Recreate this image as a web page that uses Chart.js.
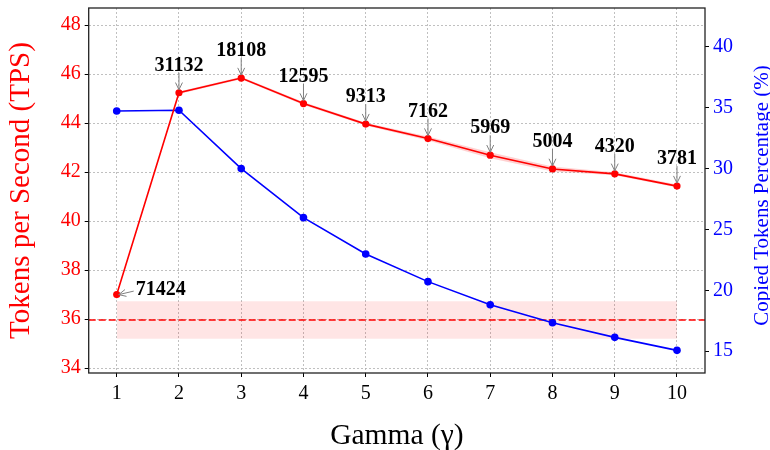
<!DOCTYPE html>
<html><head><meta charset="utf-8">
<script src="https://cdn.jsdelivr.net/npm/chart.js@4.4.0/dist/chart.umd.min.js"></script>
<style>html,body{margin:0;padding:0;background:#fff}#wrap{width:770px;height:450px;position:relative}</style>
</head><body><div id="wrap"><canvas id="c"></canvas></div>
<script>
// ---- data ----
const gammaValues = [1, 2, 3, 4, 5, 6, 7, 8, 9, 10];
const tpsValues   = [37.00, 45.24, 45.84, 44.80, 43.96, 43.37, 42.69, 42.13, 41.93, 41.43];
const tpsLower    = [36.97, 45.19, 45.79, 44.74, 43.90, 43.29, 42.57, 42.03, 41.87, 41.37];
const tpsUpper    = [37.03, 45.29, 45.89, 44.86, 44.02, 43.45, 42.81, 42.23, 41.99, 41.49];
const copiedPct   = [34.74, 34.80, 30.00, 25.97, 22.98, 20.71, 18.81, 17.33, 16.13, 15.06];
const tokenCounts = [71424, 31132, 18108, 12595, 9313, 7162, 5969, 5004, 4320, 3781];
const baselineTps  = 35.96;
const baselineLow  = 35.20;
const baselineHigh = 36.73;
const baselineSpan = [1, 10];
const xTicks   = [1, 2, 3, 4, 5, 6, 7, 8, 9, 10];
const tpsTicks = [34, 36, 38, 40, 42, 44, 46, 48];
const pctTicks = [15, 20, 25, 30, 35, 40];
const xRange   = [0.55, 10.45];
const tpsRange = [33.8, 48.7];
const pctRange = [13.2, 43.2];
const xTitle = 'Gamma (γ)';
const tpsTitle = 'Tokens per Second (TPS)';
const pctTitle = 'Copied Tokens Percentage (%)';

const SERIF = '"Liberation Serif", "Times New Roman", serif';
const RED = '#ff0000', BLUE = '#0000ff';

const pts = (ys) => gammaValues.map((x, i) => ({x, y: ys[i]}));
const span = (y) => baselineSpan.map(x => ({x, y}));

const gridCommon = {
  color: '#b0b0b0', lineWidth: 0.8, tickLength: 4,
  tickColor: '#000', tickWidth: 1, tickBorderDash: []
};
const borderCommon = { display: false, dash: [2, 2] };

const overlay = {
  id: 'overlay',
  beforeDatasetsDraw(chart) {
    const {ctx, chartArea: a, scales} = chart;
    const y = scales.y.getPixelForValue(baselineTps);
    ctx.save();
    ctx.strokeStyle = RED; ctx.lineWidth = 1.5; ctx.setLineDash([7, 3]);
    ctx.beginPath(); ctx.moveTo(a.left, y); ctx.lineTo(a.right, y); ctx.stroke();
    ctx.restore();
  },
  afterDatasetsDraw(chart) {
    const {ctx, scales} = chart;
    ctx.save();
    ctx.font = 'bold 20px ' + SERIF;
    ctx.fillStyle = '#000';
    ctx.strokeStyle = '#808080';
    ctx.lineWidth = 1;
    const arrow = (x1, y1, x2, y2) => {
      ctx.beginPath(); ctx.moveTo(x1, y1); ctx.lineTo(x2, y2); ctx.stroke();
      const ang = Math.atan2(y2 - y1, x2 - x1), L = 8, W = 0.45;
      ctx.beginPath();
      ctx.moveTo(x2 - L * Math.cos(ang - W), y2 - L * Math.sin(ang - W));
      ctx.lineTo(x2, y2);
      ctx.lineTo(x2 - L * Math.cos(ang + W), y2 - L * Math.sin(ang + W));
      ctx.stroke();
    };
    gammaValues.forEach((g, i) => {
      const px = scales.x.getPixelForValue(g);
      const py = scales.y.getPixelForValue(tpsValues[i]);
      const label = String(tokenCounts[i]);
      ctx.textBaseline = 'alphabetic';
      if (i === 0) {
        ctx.textAlign = 'left';
        ctx.fillText(label, px + 19, py + 0.5);
        arrow(px + 17, py - 3.5, px + 2, py);
      } else {
        ctx.textAlign = 'center';
        ctx.fillText(label, px, py - 22);
        arrow(px, py - 20, px, py - 3);
      }
    });
    ctx.restore();
  },
  afterDraw(chart) {
    const {ctx, chartArea: a} = chart;
    ctx.save();
    ctx.strokeStyle = '#222'; ctx.lineWidth = 1.3; ctx.setLineDash([]);
    ctx.strokeRect(a.left, a.top, a.right - a.left, a.bottom - a.top);
    // right axis title (reads bottom to top)
    ctx.translate(762, (a.top + a.bottom) / 2 + 5);
    ctx.rotate(-Math.PI / 2);
    ctx.font = '21px ' + SERIF;
    ctx.fillStyle = BLUE; ctx.textAlign = 'center'; ctx.textBaseline = 'middle';
    ctx.fillText(pctTitle, 0, 0);
    ctx.restore();
  }
};

const noVPad = s => { s.paddingTop = 0; s.paddingBottom = 0; };

new Chart(document.getElementById('c'), {
  type: 'line',
  data: {
    datasets: [
      { label: 'TPS', data: pts(tpsValues), yAxisID: 'y', borderColor: RED, backgroundColor: RED,
        borderWidth: 1.6, pointRadius: 3.6, pointBorderWidth: 0, pointBackgroundColor: RED, tension: 0 },
      { label: 'Copied', data: pts(copiedPct), yAxisID: 'y1', borderColor: BLUE, backgroundColor: BLUE,
        borderWidth: 1.6, pointRadius: 3.8, pointBorderWidth: 0, pointBackgroundColor: BLUE, tension: 0 },
      { label: 'tpsLow', data: pts(tpsLower), yAxisID: 'y', borderWidth: 0, pointRadius: 0, fill: false },
      { label: 'tpsHigh', data: pts(tpsUpper), yAxisID: 'y', borderWidth: 0, pointRadius: 0,
        fill: '-1', backgroundColor: 'rgba(255,0,0,0.18)' },
      { label: 'baseLow', data: span(baselineLow), yAxisID: 'y', borderWidth: 0, pointRadius: 0, fill: false },
      { label: 'baseHigh', data: span(baselineHigh), yAxisID: 'y', borderWidth: 0, pointRadius: 0,
        fill: '-1', backgroundColor: 'rgba(255,0,0,0.1)' }
    ]
  },
  options: {
    responsive: true, maintainAspectRatio: false, animation: false,
    layout: { padding: { top: 8, left: 0, right: 0, bottom: 0 } },
    plugins: { legend: { display: false }, tooltip: { enabled: false } },
    scales: {
      x: {
        type: 'linear', min: xRange[0], max: xRange[1],
        afterBuildTicks: s => { s.ticks = xTicks.map(v => ({value: v})); },
        afterFit: s => { s.height = 77; s.paddingLeft = 0; s.paddingRight = 0; },
        ticks: { color: '#000', font: {family: SERIF, size: 20}, padding: 5, maxRotation: 0, autoSkip: false,
                 callback: v => String(v) },
        grid: gridCommon, border: borderCommon,
        title: { display: true, text: xTitle, color: '#000', font: {family: SERIF, size: 29.5, lineHeight: 0.9}, padding: 0 }
      },
      y: {
        type: 'linear', position: 'left', min: tpsRange[0], max: tpsRange[1],
        afterBuildTicks: s => { s.ticks = tpsTicks.map(v => ({value: v})); },
        afterFit: s => { s.width = 88.7; noVPad(s); },
        ticks: { color: RED, font: {family: SERIF, size: 20}, padding: 4, callback: v => String(v) },
        grid: gridCommon, border: borderCommon,
        title: { display: true, text: tpsTitle, color: RED, font: {family: SERIF, size: 29, lineHeight: 1}, padding: {top: 7, bottom: 0} }
      },
      y1: {
        type: 'linear', position: 'right', min: pctRange[0], max: pctRange[1],
        afterBuildTicks: s => { s.ticks = pctTicks.map(v => ({value: v})); },
        afterFit: s => { s.width = 65; noVPad(s); },
        ticks: { color: BLUE, font: {family: SERIF, size: 20}, padding: 4, callback: v => String(v) },
        grid: Object.assign({}, gridCommon, { drawOnChartArea: false }), border: borderCommon,
        title: { display: false }
      }
    }
  },
  plugins: [overlay]
});
</script></body></html>
